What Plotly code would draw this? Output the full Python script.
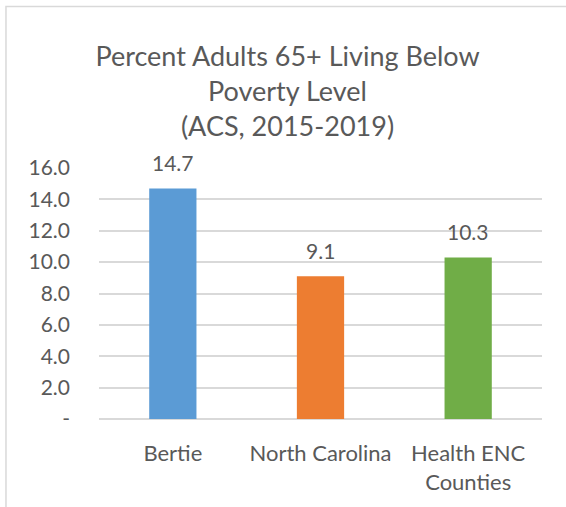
import plotly.graph_objs as go

# Chart data
categories = ['Bertie', 'North Carolina', 'Health ENC<br>Counties']
values = [14.7, 9.1, 10.3]
bar_colors = ['#5B9BD5', '#ED7D31', '#70AD47']
tick_vals = [0, 2, 4, 6, 8, 10, 12, 14, 16]
tick_text = ['-', '2.0', '4.0', '6.0', '8.0', '10.0', '12.0', '14.0', '16.0']

font_family = 'Lato, Open Sans, sans-serif'
grey = '#595959'

data = [go.Bar(x=categories,
               y=values,
               marker=dict(color=bar_colors, line=dict(width=0)),
               width=0.32,
               hoverinfo='x+y')]

# value labels sit a little above each bar
labels = [dict(x=c, y=v, text='%.1f' % v, showarrow=False,
               xanchor='center', yanchor='bottom', yshift=11,
               font=dict(size=21, color=grey, family=font_family))
          for c, v in zip(categories, values)]

layout = go.Layout(
    title=dict(text='Percent Adults 65+ Living Below<br>Poverty Level<br>(ACS, 2015-2019)',
               x=0.508, xanchor='center', y=0.870, yanchor='middle',
               font=dict(size=27, color=grey, family=font_family)),
    width=566, height=507,
    margin=dict(l=99, r=24, t=168, b=88),
    paper_bgcolor='white', plot_bgcolor='white',
    showlegend=False,
    font=dict(family=font_family, color=grey, size=21),
    xaxis=dict(showgrid=False, showline=False, ticks='', ticklabelstandoff=19,
               tickfont=dict(size=22, color=grey)),
    yaxis=dict(range=[0, 16], tickvals=tick_vals, ticktext=tick_text,
               showgrid=True, gridcolor='#D9D9D9', gridwidth=1.5,
               zeroline=True, zerolinecolor='#D9D9D9', zerolinewidth=1.5,
               showline=False, ticks='', ticklabelstandoff=28,
               tickfont=dict(size=21, color=grey)),
    annotations=labels,
    shapes=[dict(type='rect', xref='paper', yref='paper',
                 x0=-0.21, x1=1.07, y0=-0.37, y1=1.643,
                 line=dict(color='#D9D9D9', width=1.5), fillcolor='rgba(0,0,0,0)')],
)

fig = go.Figure(data=data, layout=layout)
# drop the page's default body margin so the figure starts at the window corner
fig.write_html('out.html', config={'displayModeBar': False},
               post_script="document.body.style.margin='0';")
